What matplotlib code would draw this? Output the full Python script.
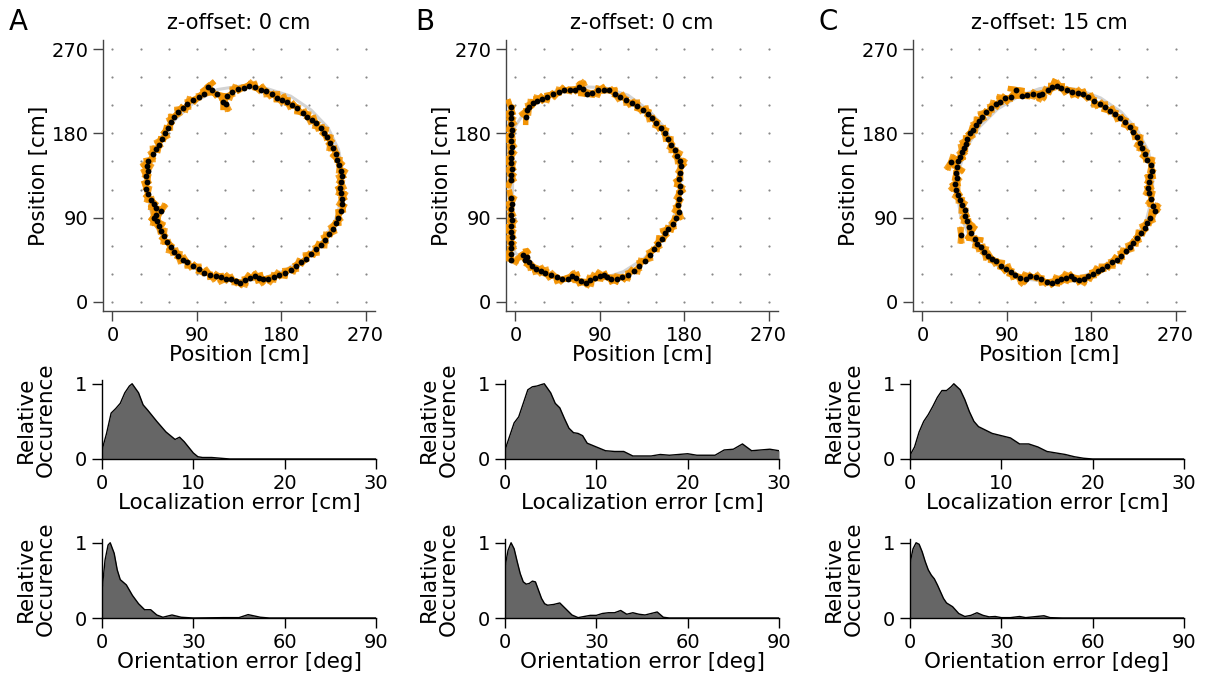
import numpy as np
import matplotlib
matplotlib.use('Agg')
import matplotlib.pyplot as plt
from matplotlib.collections import LineCollection

# ---- trajectories (cm) ----
# ground truth path (gray)
gt_A_x = [138, 165, 190, 212, 230, 241, 246, 245, 238, 225, 206, 183, 158, 132, 106, 83, 63, 49, 40, 37, 41, 52, 68, 88, 112, 138]
gt_A_y = [231, 228, 220, 205, 186, 163, 138, 112, 88, 66, 47, 33, 24, 22, 27, 38, 55, 76, 100, 126, 152, 176, 196, 214, 227, 231]

gt_B_x = [-3, -3, 0, 10, 25, 45, 70, 95, 120, 142, 160, 172, 177, 175, 168, 155, 137, 115, 90, 65, 42, 22, 8, 0, -3]
gt_B_y = [60, 180, 188, 203, 217, 226, 230, 229, 221, 205, 185, 160, 135, 110, 88, 66, 46, 32, 24, 22, 27, 36, 45, 52, 60]

gt_C_x = [140, 166, 190, 212, 229, 241, 246, 245, 239, 226, 208, 186, 162, 137, 112, 88, 67, 51, 41, 37, 39, 47, 61, 80, 103, 125, 140]
gt_C_y = [230, 227, 218, 203, 184, 161, 137, 112, 88, 66, 47, 33, 24, 21, 24, 33, 48, 68, 91, 116, 141, 165, 187, 206, 220, 228, 230]

# estimated positions (black dots)
est_A_x = [140, 134, 128, 122, 118, 121, 112, 106, 102, 98, 92, 86, 80, 75, 70, 66, 62, 59, 56, 53, 50, 46, 43, 38, 37, 38,
           36, 37, 36, 38, 41, 44, 47, 52, 46, 44, 48, 50, 52, 55, 58, 62, 66, 70, 75, 80, 86, 92, 98, 104, 110, 116, 121,
           127, 132, 136, 141, 147, 152, 156, 161, 166, 172, 178, 184, 190, 196, 201, 206, 212, 217, 222, 227, 231, 235,
           238, 241, 244, 245, 245, 244, 243, 244, 245, 244, 242, 240, 238, 235, 232, 229, 226, 222, 217, 213, 208, 203,
           197, 192, 186, 181, 176, 170, 164, 158, 152, 146]
est_A_y = [229, 228, 224, 220, 214, 212, 222, 226, 230, 222, 219, 216, 211, 207, 203, 198, 192, 186, 180, 174, 168, 163, 158,
           150, 145, 140, 134, 128, 121, 115, 109, 104, 100, 97, 93, 90, 86, 81, 76, 70, 64, 58, 53, 49, 45, 42, 38, 35, 31,
           29, 27, 26, 24, 24, 22, 20, 23, 25, 27, 25, 24, 24, 26, 28, 31, 34, 38, 42, 46, 51, 56, 61, 66, 72, 78, 84, 90,
           97, 104, 110, 116, 122, 128, 134, 140, 146, 152, 158, 164, 170, 176, 181, 186, 191, 194, 198, 202, 207, 210,
           214, 216, 218, 222, 225, 227, 230, 231]

est_B_x = [-5, -5, -5, -5, -4, -5, -5, -4, -5, -5, -5, -4, -5, -5,
           -5, -4, -5, -5, -4, -5, -5, -4, -5, -5, -5, -5,
           8, 12, 10, 14, 18, 22, 27, 32, 38, 44, 50, 56, 60, 65, 70, 75, 80, 85, 90, 94, 98, 102, 108, 114, 120, 126,
           132, 138, 143, 148, 152, 156, 160, 163, 168, 171, 174, 173, 174, 175, 175, 174, 176, 177, 175, 172, 170, 166,
           163, 159, 155, 150, 146, 141, 136, 130, 124, 118, 112, 106, 100, 94, 88, 82, 76, 72, 68, 64, 58, 52, 46, 40,
           34, 28, 23, 19, 15, 12, 11]
est_B_y = [208, 202, 196, 190, 184, 178, 172, 166, 160, 154, 148, 142, 136, 130,
           111, 105, 99, 93, 87, 81, 75, 69, 63, 57, 51, 45,
           50, 48, 45, 42, 38, 35, 33, 31, 28, 26, 24, 24, 27, 25, 22, 20, 23, 25, 27, 28, 26, 24, 24, 26, 29, 33, 38, 44,
           50, 56, 62, 67, 73, 78, 83, 89, 96, 103, 110, 117, 124, 131, 138, 145, 151, 156, 162, 168, 174, 180, 186, 191,
           196, 201, 205, 209, 213, 216, 219, 222, 226, 227, 226, 223, 222, 228, 230, 226, 227, 226, 224, 222, 219, 217,
           215, 213, 208, 205, 198]

est_C_x = [138, 134, 128, 124, 118, 112, 106, 100, 94, 88, 83, 78, 73, 68, 64, 60, 57, 54, 51, 48, 46, 44, 42, 40, 38, 30,
           37, 36, 37, 35, 36, 38, 40, 42, 45, 45, 48, 50, 52, 41, 56, 58, 62, 66, 70, 74, 79, 84, 89, 94, 99, 104, 110,
           115, 121, 127, 133, 138, 143, 148, 153, 158, 162, 167, 172, 177, 182, 187, 192, 197, 202, 207, 212, 217, 221,
           225, 229, 233, 237, 240, 243, 248, 246, 244, 242, 241, 242, 243, 245, 244, 240, 237, 234, 232, 229, 225, 221,
           216, 211, 205, 200, 195, 189, 183, 177, 171, 166, 160, 154, 148, 143]
est_C_y = [230, 226, 222, 221, 222, 221, 220, 227, 219, 218, 214, 211, 207, 203, 198, 193, 189, 184, 180, 174, 169, 164, 160,
           155, 150, 149, 144, 138, 132, 126, 120, 114, 109, 103, 98, 92, 86, 80, 74, 71, 67, 62, 58, 53, 49, 46, 43, 38,
           35, 32, 28, 25, 24, 27, 26, 24, 21, 20, 22, 24, 25, 27, 24, 23, 24, 27, 30, 33, 35, 38, 42, 45, 49, 54, 59, 63,
           68, 73, 79, 84, 90, 97, 102, 110, 116, 122, 128, 134, 140, 146, 152, 158, 164, 170, 176, 182, 187, 192, 197,
           201, 204, 208, 211, 215, 219, 222, 223, 224, 227, 229, 231]

# typical tilt of the orientation estimates against the path (deg), repeated along the track
tilt_deg = [22, -18, 35, -30, 8, -25, 30, -12, 15, -35]

# ---- error distributions (relative occurence) ----
loc_A_x = [0, 0.5, 1, 1.5, 2, 2.5, 3, 3.3, 4, 4.5, 5, 6, 7, 8, 8.5, 9, 10, 10.5, 11, 12, 13, 14, 30]
loc_A_y = [0.12, 0.34, 0.61, 0.67, 0.74, 0.88, 0.97, 1.0, 0.88, 0.72, 0.65, 0.50, 0.36, 0.26, 0.29, 0.23, 0.08, 0.03,
           0.02, 0.02, 0.01, 0.0, 0.0]
loc_B_x = [0, 0.5, 1, 1.5, 2, 2.5, 3, 3.5, 4, 4.3, 5, 5.5, 6, 6.5, 7, 7.5, 8, 8.5, 9, 10, 11, 12, 13, 14, 15, 16, 17,
           18, 19, 20, 21, 22, 23, 24, 25, 26, 27, 28, 29, 30]
loc_B_y = [0.12, 0.30, 0.48, 0.56, 0.74, 0.92, 0.96, 0.97, 0.99, 1.0, 0.88, 0.74, 0.68, 0.54, 0.41, 0.35, 0.34, 0.31,
           0.21, 0.16, 0.11, 0.10, 0.10, 0.04, 0.04, 0.04, 0.06, 0.05, 0.06, 0.07, 0.05, 0.05, 0.05, 0.12, 0.13, 0.20,
           0.11, 0.12, 0.13, 0.11]
loc_C_x = [0, 0.5, 1, 1.5, 2, 2.5, 3, 3.5, 4, 4.5, 4.8, 5.5, 6, 6.5, 7, 7.5, 8, 9, 10, 11, 12, 13, 14, 15, 16, 17, 18,
           19, 20, 30]
loc_C_y = [0.05, 0.16, 0.36, 0.50, 0.59, 0.70, 0.82, 0.91, 0.91, 0.96, 1.0, 0.92, 0.79, 0.63, 0.50, 0.43, 0.40, 0.34,
           0.31, 0.28, 0.20, 0.20, 0.16, 0.10, 0.08, 0.06, 0.03, 0.01, 0.0, 0.0]

ori_A_x = [0, 1, 2, 2.7, 4, 5, 6, 8, 10, 12, 14, 16, 18, 20, 23, 26, 30, 40, 45, 48, 52, 55, 90]
ori_A_y = [0.37, 0.77, 0.97, 1.0, 0.86, 0.64, 0.51, 0.44, 0.30, 0.19, 0.11, 0.11, 0.04, 0.01, 0.04, 0.01, 0.0, 0.005,
           0.005, 0.045, 0.01, 0.0, 0.0]
ori_B_x = [0, 1, 2, 3, 4, 5, 6, 7, 8, 9, 10, 11, 12, 13, 14, 16, 18, 20, 22, 24, 26, 28, 30, 32, 34, 36, 38, 40, 42,
           44, 46, 48, 50, 52, 54, 90]
ori_B_y = [0.68, 0.90, 1.0, 0.92, 0.75, 0.59, 0.48, 0.45, 0.46, 0.49, 0.48, 0.37, 0.26, 0.19, 0.17, 0.18, 0.20, 0.12,
           0.04, 0.005, 0.02, 0.035, 0.035, 0.06, 0.07, 0.07, 0.10, 0.05, 0.07, 0.05, 0.04, 0.06, 0.08, 0.01, 0.0, 0.0]
ori_C_x = [0, 1, 2, 3, 4, 5, 6, 7, 8, 9, 10, 11, 12, 14, 16, 18, 20, 22, 24, 26, 28, 30, 33, 36, 38, 44, 46, 50, 90]
ori_C_y = [0.73, 0.92, 1.0, 0.98, 0.88, 0.75, 0.64, 0.57, 0.52, 0.44, 0.35, 0.26, 0.20, 0.15, 0.06, 0.02, 0.035, 0.07,
           0.035, 0.015, 0.02, 0.005, 0.005, 0.02, 0.005, 0.03, 0.005, 0.0, 0.0]

letters = ['A', 'B', 'C']
titles = ['z-offset: 0 cm', 'z-offset: 0 cm', 'z-offset: 15 cm']

FS = 14      # tick labels
LFS = 15.5   # axis labels
W, H = 1214, 677
fig = plt.figure(figsize=(W / 100, H / 100), dpi=100)


def px_box(left, top, right, bottom):
    return [left / W, 1 - bottom / H, (right - left) / W, (bottom - top) / H]


def style(ax, col):
    for s in ['top', 'right']:
        ax.spines[s].set_visible(False)
    for s in ['left', 'bottom']:
        ax.spines[s].set_color(col)
        ax.spines[s].set_linewidth(1.0)
    ax.tick_params(labelsize=FS, length=7, width=1, color=col)


def traj(ax, gx, gy, ex, ey):
    gxx, gyy = np.meshgrid(np.arange(0, 271, 30), np.arange(0, 271, 30))
    ax.scatter(gxx.ravel(), gyy.ravel(), s=2.5, color='#888888', zorder=1, linewidths=0)
    ax.plot(gx, gy, color='#d3d3d3', lw=2.2, zorder=2, solid_capstyle='round')
    ex = np.array(ex, float)
    ey = np.array(ey, float)
    ang = np.arctan2(np.gradient(ey), np.gradient(ex))
    t1 = np.deg2rad(np.resize(tilt_deg, len(ex)))
    t2 = np.deg2rad(np.resize(tilt_deg[3:] + tilt_deg[:3], len(ex))) * -0.6
    segs = []
    for tt in (t1, t2):
        u = np.cos(ang + tt) * 9
        v = np.sin(ang + tt) * 9
        segs += [[(x - a, y - b), (x + a, y + b)] for x, y, a, b in zip(ex, ey, u, v)]
    ax.add_collection(LineCollection(segs, colors='#f39200', linewidths=3.8, alpha=0.85, zorder=3))
    ax.plot(ex, ey, 'o', color='black', ms=4.2, mew=0, zorder=4)
    ax.set_xlim(-10, 280)
    ax.set_ylim(-10, 280)
    ax.set_xticks([0, 90, 180, 270])
    ax.set_yticks([0, 90, 180, 270])
    ax.set_xlabel('Position [cm]', fontsize=LFS, labelpad=0)
    ax.set_ylabel('Position [cm]', fontsize=LFS, labelpad=2)
    style(ax, '#444444')


def dist(ax, x, y, xmax, xticks, xlabel):
    ax.fill_between(x, y, 0, color='#666666', lw=0, zorder=2)
    ax.plot(x, y, color='black', lw=1, zorder=3)
    ax.set_xlim(0, xmax)
    ax.set_ylim(0, 1.05)
    ax.set_xticks(xticks)
    ax.set_yticks([0, 1])
    ax.set_xlabel(xlabel, fontsize=LFS, labelpad=0)
    ax.set_ylabel('Relative\nOccurence', fontsize=LFS, linespacing=1.0, labelpad=14)
    style(ax, 'black')


traj_left = [103, 506, 913]
dist_left = [102, 505, 910]
gts = [(gt_A_x, gt_A_y), (gt_B_x, gt_B_y), (gt_C_x, gt_C_y)]
ests = [(est_A_x, est_A_y), (est_B_x, est_B_y), (est_C_x, est_C_y)]
locs = [(loc_A_x, loc_A_y), (loc_B_x, loc_B_y), (loc_C_x, loc_C_y)]
oris = [(ori_A_x, ori_A_y), (ori_B_x, ori_B_y), (ori_C_x, ori_C_y)]
letter_x = [9, 415, 818]

for i in range(3):
    ax = fig.add_axes(px_box(traj_left[i], 40, traj_left[i] + 272, 311))
    traj(ax, *gts[i], *ests[i])
    ax.set_title(titles[i], fontsize=15, pad=8)
    fig.text(letter_x[i] / W, 1 - 30 / H, letters[i], fontsize=20, va='baseline')

    ax2 = fig.add_axes(px_box(dist_left[i], 380, dist_left[i] + 274, 459))
    dist(ax2, *locs[i], 30, [0, 10, 20, 30], 'Localization error [cm]')

    ax3 = fig.add_axes(px_box(dist_left[i], 539, dist_left[i] + 274, 618))
    dist(ax3, *oris[i], 90, [0, 30, 60, 90], 'Orientation error [deg]')

fig.savefig('out.png', dpi=100)
